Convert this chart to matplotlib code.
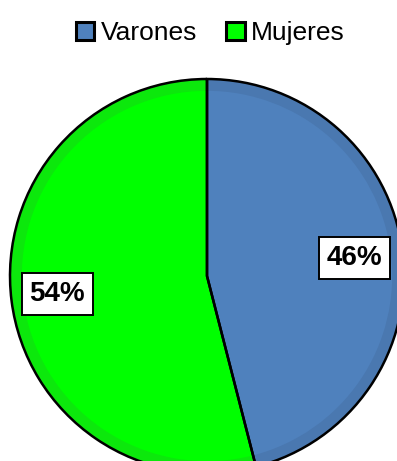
import matplotlib.pyplot as plt
from matplotlib.patches import Patch

# datos
labels = ["Varones", "Mujeres"]
values = [46, 54]
colors = ["#4F81BD", "#00FF00"]
ring_colors = ["#4A78B0", "#0CE80C"]

plt.rcParams['font.family'] = ['Liberation Sans', 'DejaVu Sans']

fig = plt.figure(figsize=(3.97, 4.61), dpi=100)
ax = fig.add_axes([10 / 397, (461 - 473) / 461, 394 / 397, 394 / 461])

# anillo exterior (bisel) y relleno interior
ax.pie(values, colors=ring_colors, startangle=90, counterclock=False,
       radius=1.0, wedgeprops=dict(linewidth=0))
ax.pie(values, colors=colors, startangle=90, counterclock=False,
       radius=0.94, wedgeprops=dict(linewidth=0))
# bordes negros
ax.pie(values, colors=["none", "none"], startangle=90, counterclock=False,
       radius=1.0, wedgeprops=dict(linewidth=1.8, edgecolor="black"))

ax.set_xlim(-1, 1)
ax.set_ylim(-1, 1)
ax.set_aspect("equal")
ax.axis("off")

# etiquetas de porcentaje
label_pos = [(0.75, 0.09), (-0.76, -0.09)]
for v, (x, y) in zip(values, label_pos):
    ax.text(x, y, f"{v}%", ha="center", va="center", fontsize=20,
            fontweight="bold",
            bbox=dict(boxstyle="square,pad=0.28", facecolor="white",
                      edgecolor="black", linewidth=1.4))

handles = [Patch(facecolor=c, edgecolor="black", linewidth=2.2) for c in colors]
fig.legend(handles, labels, loc="upper center", bbox_to_anchor=(0.53, 1.005),
           ncol=2, frameon=False, fontsize=19, handlelength=0.7,
           handleheight=0.7, handletextpad=0.25, columnspacing=1.1)

fig.savefig("out.png", dpi=100)
